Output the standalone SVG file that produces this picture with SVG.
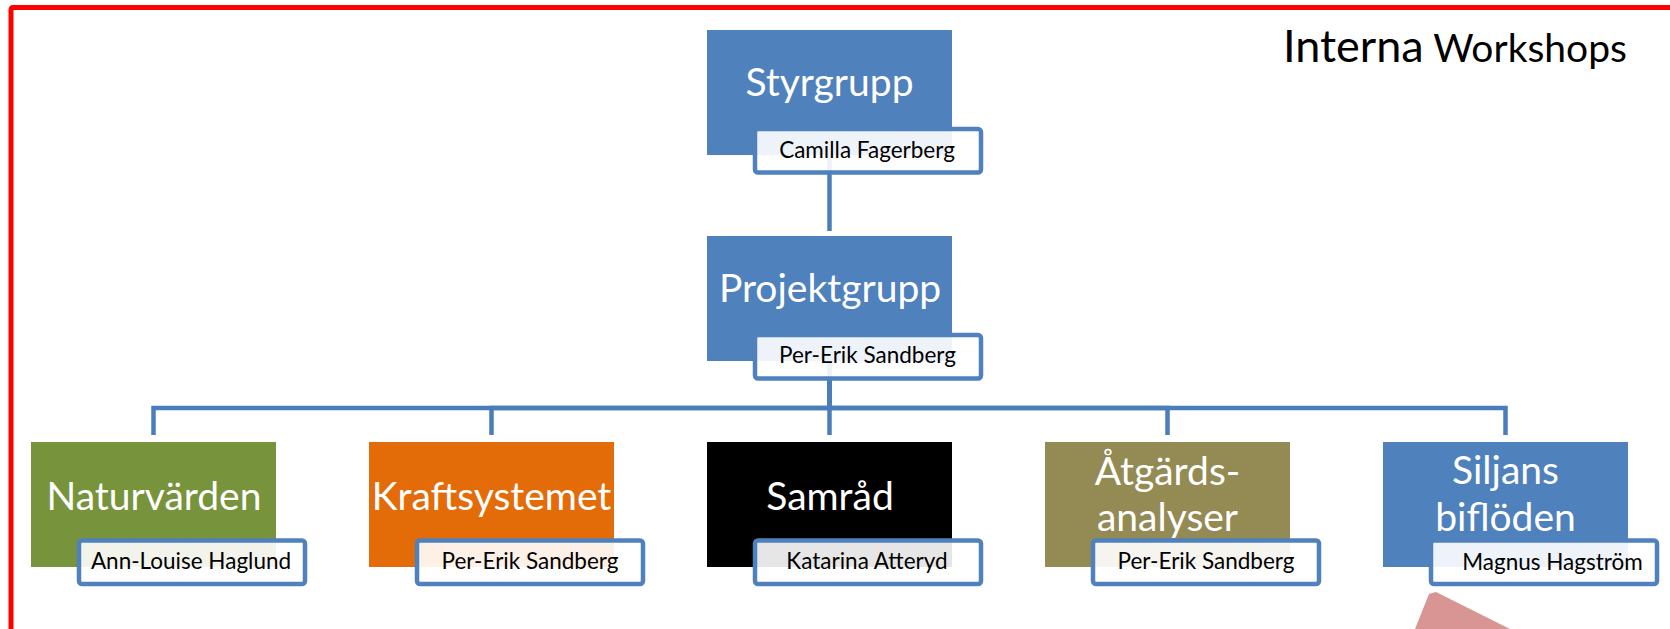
<svg xmlns="http://www.w3.org/2000/svg" width="1670" height="629" viewBox="0 0 1670 629">
<style>
.box{stroke:none}
.lbl{font-family:Lato,"Liberation Sans",sans-serif;font-size:39px;fill:#FFFFFF;text-anchor:middle}
.nm{fill:#FFFFFF;fill-opacity:0.9;stroke:#4F81BD;stroke-width:4.5}
.nmt{font-family:Lato,"Liberation Sans",sans-serif;font-size:22.5px;fill:#000000;text-anchor:middle}
.con{fill:none;stroke:#4A7EBB;stroke-width:4.5}
.ttl{font-family:Lato,"Liberation Sans",sans-serif;fill:#000000}
</style>
<rect width="1670" height="629" fill="#FFFFFF"/>
<rect x="11" y="7.5" width="1700" height="700" fill="none" stroke="#FF0000" stroke-width="5" rx="2"/>
<text class="ttl" x="1283" y="62"><tspan font-size="45">Interna</tspan><tspan font-size="39"> Workshops</tspan></text>
<g id="connectors">
<path class="con" d="M829.5,155 V231"/>
<path class="con" d="M829.5,360 V408 H153.5 V435"/>
<path class="con" d="M829.5,360 V408 H491.5 V435"/>
<path class="con" d="M829.5,360 V435"/>
<path class="con" d="M829.5,360 V408 H1167.5 V435"/>
<path class="con" d="M829.5,360 V408 H1505.5 V435"/>
</g>
<g id="styrgrupp">
<rect class="box" x="707" y="30" width="245" height="125" fill="#4F81BD"/>
<text class="lbl" x="829.5" y="96">Styrgrupp</text>
<rect class="nm" x="755" y="129" width="226" height="43.5" rx="3"/>
<text class="nmt" x="867" y="157.5">Camilla Fagerberg</text>
</g>
<g id="projektgrupp">
<rect class="box" x="707" y="236" width="245" height="125" fill="#4F81BD"/>
<text class="lbl" x="830" y="302">Projektgrupp</text>
<rect class="nm" x="755" y="335" width="226" height="43.5" rx="3"/>
<text class="nmt" x="867.5" y="362.5">Per-Erik Sandberg</text>
</g>
<g id="naturvarden">
<rect class="box" x="31" y="442" width="245" height="125" fill="#77933C"/>
<text class="lbl" x="154" y="510">Naturvärden</text>
<rect class="nm" x="79" y="540.5" width="226" height="43.5" rx="3"/>
<text class="nmt" x="191" y="569">Ann-Louise Haglund</text>
</g>
<g id="kraftsystemet">
<rect class="box" x="369" y="442" width="245" height="125" fill="#E36C09"/>
<text class="lbl" x="491.5" y="510">Kraftsystemet</text>
<rect class="nm" x="417" y="540.5" width="226" height="43.5" rx="3"/>
<text class="nmt" x="530" y="569">Per-Erik Sandberg</text>
</g>
<g id="samrad">
<rect class="box" x="707" y="442" width="245" height="125" fill="#000000"/>
<text class="lbl" x="830" y="510">Samråd</text>
<rect class="nm" x="755" y="540.5" width="226" height="43.5" rx="3"/>
<text class="nmt" x="867" y="569">Katarina Atteryd</text>
</g>
<g id="atgardsanalyser">
<rect class="box" x="1045" y="442" width="245" height="125" fill="#948A54"/>
<text class="lbl" x="1167.5" y="485">Åtgärds-</text>
<text class="lbl" x="1167.5" y="531">analyser</text>
<rect class="nm" x="1093" y="540.5" width="226" height="43.5" rx="3"/>
<text class="nmt" x="1206" y="569">Per-Erik Sandberg</text>
</g>
<g id="siljans">
<rect class="box" x="1383" y="442" width="245" height="125" fill="#4F81BD"/>
<text class="lbl" x="1505.5" y="484">Siljans</text>
<text class="lbl" x="1505.5" y="531">biflöden</text>
<rect class="nm" x="1431" y="540.5" width="226" height="43.5" rx="3"/>
<text class="nmt" x="1552.5" y="569.5" font-size="24">Magnus Hagström</text>
</g>
<polygon points="1429,594 1436,592 1510,629 1415,629" fill="#D99594"/>
</svg>
